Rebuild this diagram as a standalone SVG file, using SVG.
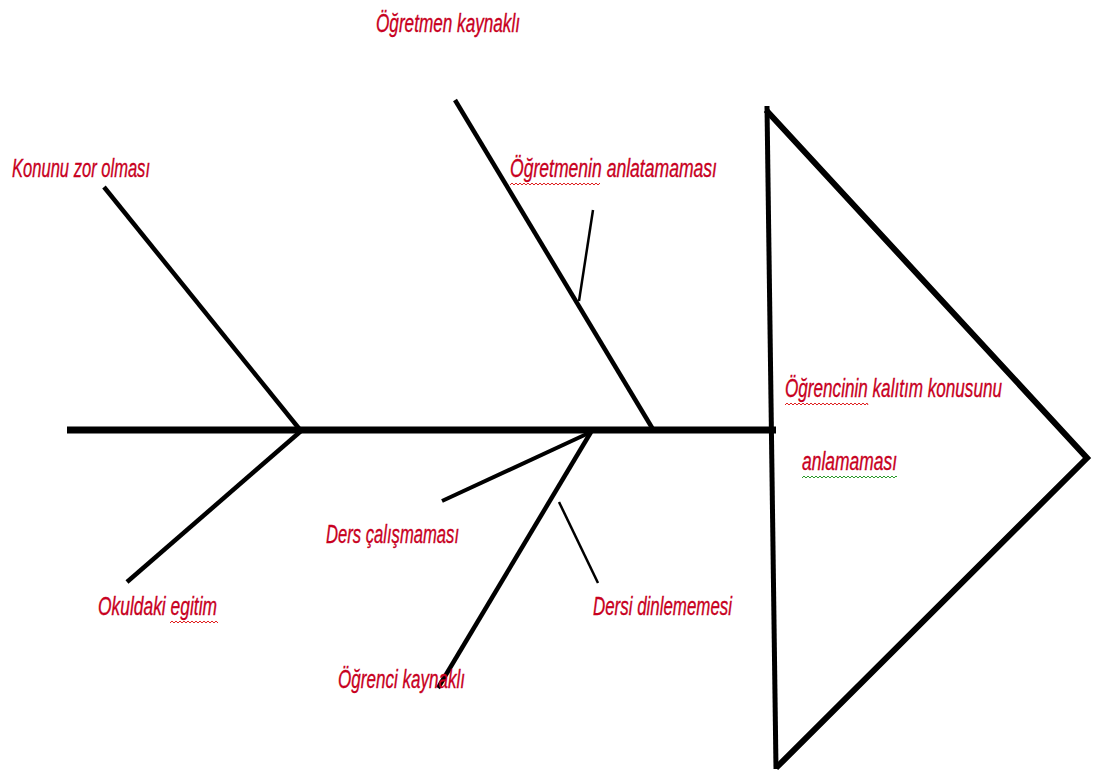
<svg xmlns="http://www.w3.org/2000/svg" width="1097" height="776" viewBox="0 0 1097 776">
<style>
.t{font-family:"Liberation Sans Narrow","Liberation Sans",Arial,sans-serif;font-style:italic;font-size:25px;fill:#c8001e;stroke:#c8001e;stroke-width:0.35}
.b{stroke:#000;fill:none;stroke-linecap:butt}
.w{fill:none;stroke-width:1}
</style>
<rect width="1097" height="776" fill="#fff"/>
<g id="connectors">
<line class="b" x1="67" y1="430" x2="776" y2="430" stroke-width="7"/>
<line class="b" x1="104" y1="187" x2="301" y2="431" stroke-width="4.5"/>
<line class="b" x1="301" y1="431" x2="127" y2="582" stroke-width="4.5"/>
<line class="b" x1="455" y1="100" x2="654" y2="431" stroke-width="4.5"/>
<line class="b" x1="593" y1="210" x2="579" y2="301" stroke-width="2.5"/>
<line class="b" x1="591" y1="432" x2="438" y2="688" stroke-width="4.5"/>
<line class="b" x1="591" y1="432" x2="442" y2="501" stroke-width="4"/>
<line class="b" x1="559" y1="502" x2="598" y2="583" stroke-width="2.5"/>
</g>
<g id="head">
<line class="b" x1="767" y1="106" x2="776" y2="769" stroke-width="5"/>
<polyline class="b" points="766,110 1087,458 776,768" stroke-width="6" stroke-linejoin="miter"/>
</g>
<g id="n-ogretmen-kaynakli"><text class="t" x="376" y="32" textLength="144" lengthAdjust="spacingAndGlyphs">Öğretmen kaynaklı</text></g>
<g id="n-ogretmenin-anlatamamasi"><text class="t" x="510" y="177" textLength="207" lengthAdjust="spacingAndGlyphs">Öğretmenin anlatamaması</text>
<polyline class="w" stroke="#e02020" points="510,185 512,183 514,185 516,183 518,185 520,183 522,185 524,183 526,185 528,183 530,185 532,183 534,185 536,183 538,185 540,183 542,185 544,183 546,185 548,183 550,185 552,183 554,185 556,183 558,185 560,183 562,185 564,183 566,185 568,183 570,185 572,183 574,185 576,183 578,185 580,183 582,185 584,183 586,185 588,183 590,185 592,183 594,185 596,183 598,185 600,183"/></g>
<g id="n-konunu"><text class="t" x="12" y="177" textLength="138" lengthAdjust="spacingAndGlyphs">Konunu zor olması</text></g>
<g id="n-okuldaki"><text class="t" x="98" y="615" textLength="119" lengthAdjust="spacingAndGlyphs">Okuldaki egitim</text>
<polyline class="w" stroke="#e02020" points="170,623 172,621 174,623 176,621 178,623 180,621 182,623 184,621 186,623 188,621 190,623 192,621 194,623 196,621 198,623 200,621 202,623 204,621 206,623 208,621 210,623 212,621 214,623 216,621 218,623"/></g>
<g id="n-ders-calismamasi"><text class="t" x="326" y="543" textLength="133" lengthAdjust="spacingAndGlyphs">Ders çalışmaması</text></g>
<g id="n-dersi-dinlememesi"><text class="t" x="593" y="615" textLength="139" lengthAdjust="spacingAndGlyphs">Dersi dinlememesi</text></g>
<g id="n-ogrenci-kaynakli"><text class="t" x="338" y="688" textLength="127" lengthAdjust="spacingAndGlyphs">Öğrenci kaynaklı</text></g>
<g id="n-sonuc"><text class="t" x="785" y="397" textLength="217" lengthAdjust="spacingAndGlyphs">Öğrencinin kalıtım konusunu</text>
<polyline class="w" stroke="#e02020" points="785,405 787,403 789,405 791,403 793,405 795,403 797,405 799,403 801,405 803,403 805,405 807,403 809,405 811,403 813,405 815,403 817,405 819,403 821,405 823,403 825,405 827,403 829,405 831,403 833,405 835,403 837,405 839,403 841,405 843,403 845,405 847,403 849,405 851,403 853,405 855,403 857,405 859,403 861,405 863,403 865,405 867,403 868,405"/>
<text class="t" x="802" y="470" textLength="95" lengthAdjust="spacingAndGlyphs">anlamaması</text>
<polyline class="w" stroke="#2a9a2a" points="802,478 804,476 806,478 808,476 810,478 812,476 814,478 816,476 818,478 820,476 822,478 824,476 826,478 828,476 830,478 832,476 834,478 836,476 838,478 840,476 842,478 844,476 846,478 848,476 850,478 852,476 854,478 856,476 858,478 860,476 862,478 864,476 866,478 868,476 870,478 872,476 874,478 876,476 878,478 880,476 882,478 884,476 886,478 888,476 890,478 892,476 894,478 896,476 897,477"/></g>
</svg>
